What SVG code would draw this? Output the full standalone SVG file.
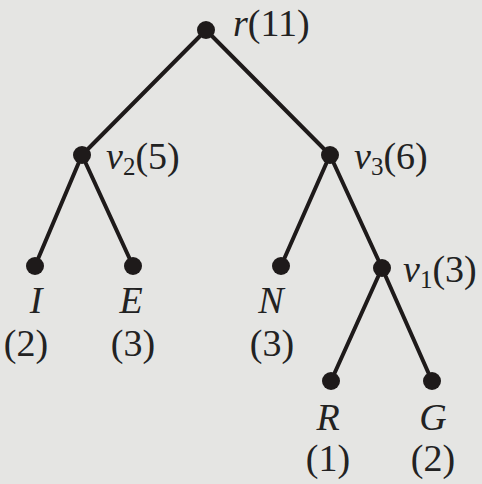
<svg xmlns="http://www.w3.org/2000/svg" width="482" height="484" viewBox="0 0 482 484">
<style>
.e{stroke:#1e1a1a;stroke-width:4;fill:none;stroke-linecap:round}
.n{fill:#1e1a1a}
text{font-family:"Liberation Serif","Times New Roman",serif;font-size:38px;fill:#222}
.i{font-style:italic}
.c{text-anchor:middle}
.s{font-size:25px}
</style>
<rect width="482" height="484" fill="#e5e5e3"/>
<g id="edges">
<line class="e" x1="206" y1="30" x2="82" y2="155"/>
<line class="e" x1="206" y1="30" x2="330" y2="155"/>
<line class="e" x1="82" y1="155" x2="35" y2="266"/>
<line class="e" x1="82" y1="155" x2="133" y2="266"/>
<line class="e" x1="330" y1="155" x2="281" y2="266"/>
<line class="e" x1="330" y1="155" x2="382" y2="268"/>
<line class="e" x1="382" y1="268" x2="331" y2="381"/>
<line class="e" x1="382" y1="268" x2="432" y2="381"/>
</g>
<g id="r"><circle class="n" cx="206" cy="30" r="9"/><text x="233" y="36"><tspan class="i">r</tspan>(11)</text></g>
<g id="v2"><circle class="n" cx="82" cy="155" r="9"/><text x="106" y="169"><tspan class="i">v</tspan><tspan class="s" dy="6">2</tspan><tspan dy="-6">(5)</tspan></text></g>
<g id="v3"><circle class="n" cx="330" cy="155" r="9"/><text x="354" y="169"><tspan class="i">v</tspan><tspan class="s" dy="6">3</tspan><tspan dy="-6">(6)</tspan></text></g>
<g id="v1"><circle class="n" cx="382" cy="268" r="9"/><text x="403" y="282"><tspan class="i">v</tspan><tspan class="s" dy="6">1</tspan><tspan dy="-6">(3)</tspan></text></g>
<g id="I"><circle class="n" cx="35" cy="266" r="9"/><text class="i c" x="36" y="313">I</text><text class="c" x="26" y="356">(2)</text></g>
<g id="E"><circle class="n" cx="133" cy="266" r="9"/><text class="i c" x="131" y="313">E</text><text class="c" x="133" y="356">(3)</text></g>
<g id="N"><circle class="n" cx="281" cy="266" r="9"/><text class="i c" x="271" y="313">N</text><text class="c" x="272" y="356">(3)</text></g>
<g id="R"><circle class="n" cx="331" cy="381" r="9"/><text class="i c" x="328" y="430">R</text><text class="c" x="328" y="471">(1)</text></g>
<g id="G"><circle class="n" cx="432" cy="381" r="9"/><text class="i c" x="433" y="430">G</text><text class="c" x="433" y="471">(2)</text></g>
</svg>
